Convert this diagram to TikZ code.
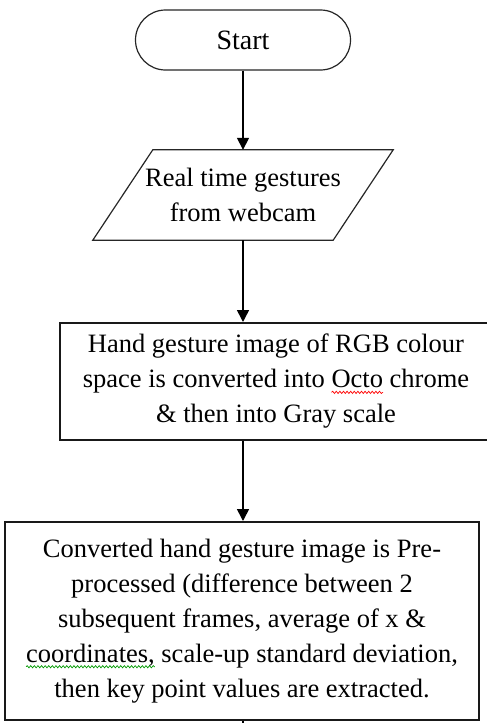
\documentclass[tikz,border=0pt]{standalone}
\usepackage{fontspec}
\setmainfont{Liberation Serif}
\usetikzlibrary{arrows.meta,shapes.misc,calc,decorations.pathmorphing}
\newsavebox\wavebox
\newlength\wavelen
\newcommand\wavy[2]{\savebox\wavebox{#2}\setlength\wavelen{\wd\wavebox}\leavevmode\rlap{\usebox\wavebox}\tikz[baseline=0pt,x=1pt,y=1pt]{\path[use as bounding box] (0pt,0pt) rectangle (\wavelen,0pt);\draw[#1, line width=0.7pt, decorate, decoration={snake, amplitude=1.1pt, segment length=3.6pt}] (0pt,-4.5pt) -- (\wavelen,-4.5pt);}}
\begin{document}
\begin{tikzpicture}[x=1pt,y=-1pt,
  termbox/.style={draw=black!85, line width=1.2pt, rounded rectangle, minimum width=215pt, minimum height=60pt, inner sep=0pt, font=\fontsize{28}{34}\selectfont},
  procbox/.style={draw=black!90, line width=1.5pt, rectangle, inner sep=0pt, align=center, font=\fontsize{26.5}{35}\selectfont},
  iobox/.style={rectangle, inner sep=0pt, align=center, font=\fontsize{26.5}{35}\selectfont},
  ioedge/.style={draw=black!85, line width=1.2pt, line join=miter},
  flow/.style={draw=black, line width=1.6pt, -{Triangle[width=12pt,length=12pt]}},
  plain/.style={draw=black, line width=1.6pt}]
\useasboundingbox (0,0) rectangle (487,723);
\clip (0,0) rectangle (487,723);
\node[termbox] (start) at (243,40) {Start};
\node[iobox, minimum width=240pt, minimum height=90pt] (io) at (243,195) {Real time gestures\\from webcam};
\draw[ioedge] ($(io.north west)+(30,0)$) -- ($(io.north east)+(30,0)$) -- ($(io.south east)+(-30,0)$) -- ($(io.south west)+(-30,0)$) -- cycle;
\node[procbox, minimum width=432pt, minimum height=117.3pt] (conv) at (276,381.4) {Hand gesture image of RGB colour\\space is converted into \wavy{red}{Octo} chrome\\\& then into Gray scale};
\node[procbox, minimum width=474pt, minimum height=198.3pt] (pre) at (242,620.9) {Converted hand gesture image is Pre-\\processed (difference between 2\\subsequent frames, average of x \&\\\wavy{green!60!black}{coordinates,} scale-up standard deviation,\\then key point values are extracted.};
\coordinate (tail) at (243,730);
\draw[flow] (start.south) -- (start.south |- io.north);
\draw[flow] (io.south) -- (io.south |- conv.north);
\draw[flow] (io.south |- conv.south) -- (io.south |- pre.north);
\draw[plain] (io.south |- pre.south) -- (tail);
\end{tikzpicture}
\end{document}
